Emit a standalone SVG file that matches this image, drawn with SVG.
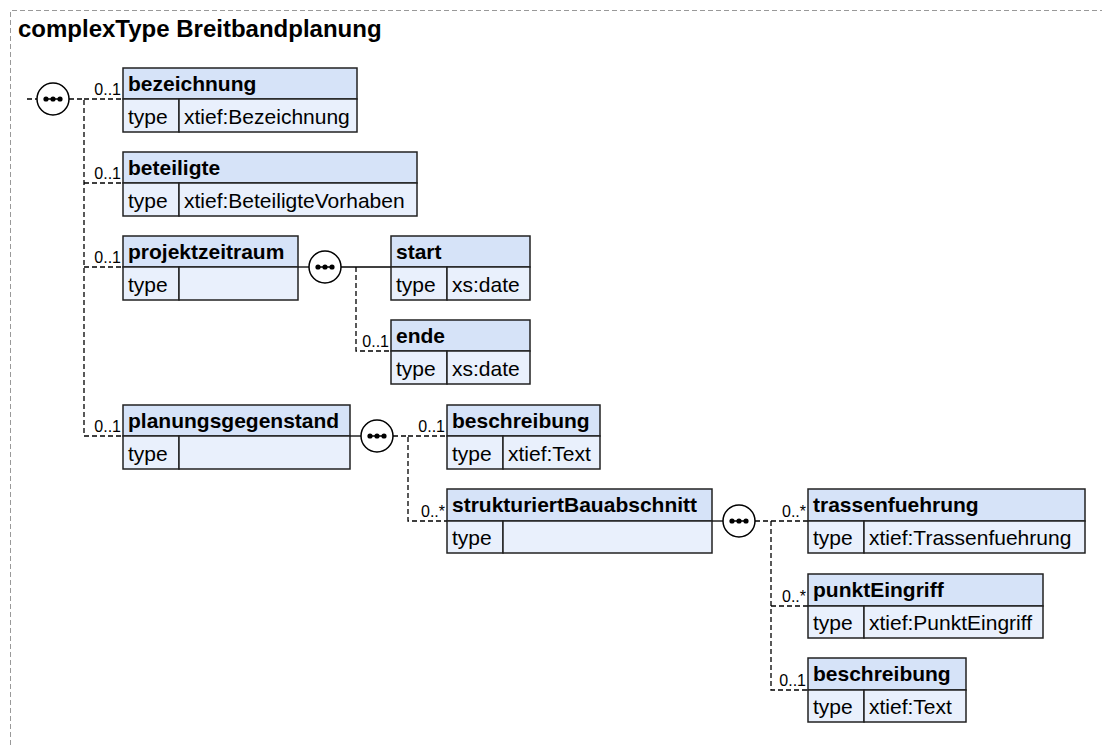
<svg xmlns="http://www.w3.org/2000/svg" width="1102" height="745" viewBox="0 0 1102 745">
<style>
.frame{fill:none;stroke:#999;stroke-width:1;stroke-dasharray:5,3}
.title{font-family:"Liberation Sans",Arial,sans-serif;font-weight:bold;font-size:24px;fill:#000}
.hd{fill:#d6e3f8;stroke:#222;stroke-width:1.5}
.tr{fill:#e9f0fc;stroke:#222;stroke-width:1.5}
.nm{font-family:"Liberation Sans",Arial,sans-serif;font-weight:bold;font-size:21px;fill:#000}
.tx{font-family:"Liberation Sans",Arial,sans-serif;font-size:21px;fill:#000}
.lb{font-family:"Liberation Sans",Arial,sans-serif;font-size:16px;fill:#000;text-anchor:end}
.opt{fill:none;stroke:#000;stroke-width:1.3;stroke-dasharray:5,3}
.req{fill:none;stroke:#000;stroke-width:1.3}
.seq circle.o{fill:#fff;stroke:#000;stroke-width:1.5}
.seq line{stroke:#000;stroke-width:1.5}
.seq circle.d{fill:#000}
</style>
<defs>
<g id="seqicon" class="seq">
<circle class="o" cx="0" cy="0" r="16"/>
<line x1="-9" y1="0" x2="9" y2="0"/>
<circle class="d" cx="-7" cy="0" r="2.6"/>
<circle class="d" cx="0" cy="0" r="2.6"/>
<circle class="d" cx="7" cy="0" r="2.6"/>
</g>
</defs>
<path class="frame" d="M10.5,745 V10.5 H1102"/>
<text class="title" x="18" y="37">complexType Breitbandplanung</text>

<g id="connectors">
<line class="opt" x1="27" y1="99" x2="37" y2="99"/>
<path class="opt" d="M69,99 H84 V436"/>
<line class="opt" x1="84" y1="99" x2="123" y2="99"/>
<line class="opt" x1="84" y1="183" x2="123" y2="183"/>
<line class="opt" x1="84" y1="267" x2="123" y2="267"/>
<line class="opt" x1="84" y1="436" x2="123" y2="436"/>
<line class="req" x1="298" y1="267" x2="309" y2="267"/>
<line class="req" x1="341" y1="267" x2="391" y2="267"/>
<path class="opt" d="M356,267 V351 H391"/>
<line class="req" x1="350" y1="436" x2="361" y2="436"/>
<path class="opt" d="M393,436 H408 V521 H447"/>
<line class="opt" x1="408" y1="436" x2="447" y2="436"/>
<line class="req" x1="712" y1="521" x2="723" y2="521"/>
<path class="opt" d="M755,521 H771 V690 H808"/>
<line class="opt" x1="771" y1="521" x2="808" y2="521"/>
<line class="opt" x1="771" y1="606" x2="808" y2="606"/>
<text class="lb" x="121" y="95">0..1</text>
<text class="lb" x="121" y="179">0..1</text>
<text class="lb" x="121" y="263">0..1</text>
<text class="lb" x="121" y="432">0..1</text>
<text class="lb" x="389" y="347">0..1</text>
<text class="lb" x="445" y="432">0..1</text>
<text class="lb" x="445" y="517">0..*</text>
<text class="lb" x="806" y="517">0..*</text>
<text class="lb" x="806" y="602">0..*</text>
<text class="lb" x="806" y="686">0..1</text>
</g>

<g id="seq-main"><use href="#seqicon" x="53" y="99"/></g>
<g id="seq-projektzeitraum"><use href="#seqicon" x="325" y="267"/></g>
<g id="seq-planungsgegenstand"><use href="#seqicon" x="377" y="436"/></g>
<g id="seq-strukturiertBauabschnitt"><use href="#seqicon" x="739" y="521"/></g>

<g id="bezeichnung">
<rect class="hd" x="123" y="68" width="234" height="31"/>
<rect class="tr" x="123" y="99" width="56" height="33"/>
<rect class="tr" x="179" y="99" width="178" height="33"/>
<text class="nm" x="128" y="91">bezeichnung</text>
<text class="tx" x="128" y="124">type</text>
<text class="tx" x="184" y="124">xtief:Bezeichnung</text>
</g>

<g id="beteiligte">
<rect class="hd" x="123" y="152" width="294" height="31"/>
<rect class="tr" x="123" y="183" width="56" height="33"/>
<rect class="tr" x="179" y="183" width="238" height="33"/>
<text class="nm" x="128" y="175">beteiligte</text>
<text class="tx" x="128" y="208">type</text>
<text class="tx" x="184" y="208">xtief:BeteiligteVorhaben</text>
</g>

<g id="projektzeitraum">
<rect class="hd" x="123" y="236" width="175" height="31"/>
<rect class="tr" x="123" y="267" width="56" height="33"/>
<rect class="tr" x="179" y="267" width="119" height="33"/>
<text class="nm" x="128" y="259">projektzeitraum</text>
<text class="tx" x="128" y="292">type</text>
</g>

<g id="start">
<rect class="hd" x="391" y="236" width="139" height="31"/>
<rect class="tr" x="391" y="267" width="56" height="33"/>
<rect class="tr" x="447" y="267" width="83" height="33"/>
<text class="nm" x="396" y="259">start</text>
<text class="tx" x="396" y="292">type</text>
<text class="tx" x="452" y="292">xs:date</text>
</g>

<g id="ende">
<rect class="hd" x="391" y="320" width="139" height="31"/>
<rect class="tr" x="391" y="351" width="56" height="33"/>
<rect class="tr" x="447" y="351" width="83" height="33"/>
<text class="nm" x="396" y="343">ende</text>
<text class="tx" x="396" y="376">type</text>
<text class="tx" x="452" y="376">xs:date</text>
</g>

<g id="planungsgegenstand">
<rect class="hd" x="123" y="405" width="227" height="31"/>
<rect class="tr" x="123" y="436" width="56" height="33"/>
<rect class="tr" x="179" y="436" width="171" height="33"/>
<text class="nm" x="128" y="428">planungsgegenstand</text>
<text class="tx" x="128" y="461">type</text>
</g>

<g id="beschreibung1">
<rect class="hd" x="447" y="405" width="153" height="31"/>
<rect class="tr" x="447" y="436" width="56" height="33"/>
<rect class="tr" x="503" y="436" width="97" height="33"/>
<text class="nm" x="452" y="428">beschreibung</text>
<text class="tx" x="452" y="461">type</text>
<text class="tx" x="508" y="461">xtief:Text</text>
</g>

<g id="strukturiertBauabschnitt">
<rect class="hd" x="447" y="489" width="265" height="32"/>
<rect class="tr" x="447" y="521" width="56" height="32"/>
<rect class="tr" x="503" y="521" width="209" height="32"/>
<text class="nm" x="452" y="512">strukturiertBauabschnitt</text>
<text class="tx" x="452" y="545">type</text>
</g>

<g id="trassenfuehrung">
<rect class="hd" x="808" y="489" width="277" height="32"/>
<rect class="tr" x="808" y="521" width="56" height="32"/>
<rect class="tr" x="864" y="521" width="221" height="32"/>
<text class="nm" x="813" y="512">trassenfuehrung</text>
<text class="tx" x="813" y="545">type</text>
<text class="tx" x="869" y="545">xtief:Trassenfuehrung</text>
</g>

<g id="punktEingriff">
<rect class="hd" x="808" y="574" width="235" height="32"/>
<rect class="tr" x="808" y="606" width="56" height="32"/>
<rect class="tr" x="864" y="606" width="179" height="32"/>
<text class="nm" x="813" y="597">punktEingriff</text>
<text class="tx" x="813" y="630">type</text>
<text class="tx" x="869" y="630">xtief:PunktEingriff</text>
</g>

<g id="beschreibung2">
<rect class="hd" x="808" y="658" width="158" height="32"/>
<rect class="tr" x="808" y="690" width="56" height="32"/>
<rect class="tr" x="864" y="690" width="102" height="32"/>
<text class="nm" x="813" y="681">beschreibung</text>
<text class="tx" x="813" y="714">type</text>
<text class="tx" x="869" y="714">xtief:Text</text>
</g>
</svg>
